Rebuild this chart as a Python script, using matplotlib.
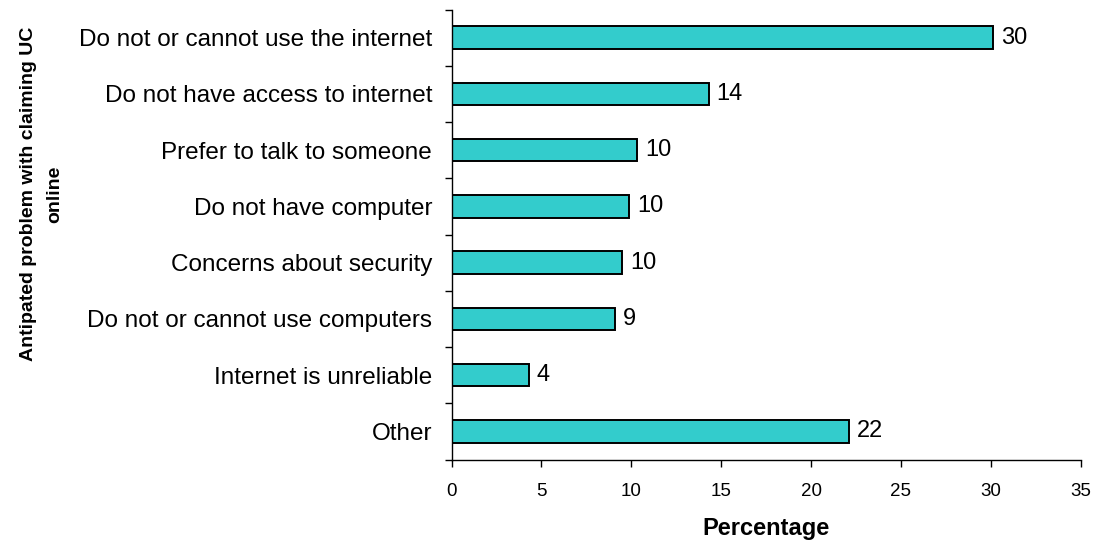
import numpy as np
import matplotlib
matplotlib.use("Agg")
import matplotlib.pyplot as plt

plt.rcParams['font.family'] = ['Liberation Sans', 'DejaVu Sans']

# =============================
# Data
# =============================
problems = [
    "Do not or cannot use the internet",
    "Do not have access to internet",
    "Prefer to talk to someone",
    "Do not have computer",
    "Concerns about security",
    "Do not or cannot use computers",
    "Internet is unreliable",
    "Other",
]
percent = [30.1, 14.3, 10.3, 9.9, 9.5, 9.1, 4.3, 22.1]

# =============================
# Horizontal bar chart
# =============================
fig = plt.figure(figsize=(10.96, 5.44), dpi=100)
ax = fig.add_axes([0.412, 0.1553, 0.574, 0.827])

pos = np.arange(len(problems))
ax.barh(pos, percent, height=0.4, color='#33CCCC', edgecolor='black', linewidth=1.4)

for p, v in zip(pos, percent):
    ax.text(v + 0.45, p, f"{v:.0f}", va='center', ha='left', fontsize=17)

ax.set_xlim(0, 35)
ax.set_ylim(len(problems) - 0.5, -0.5)
ax.set_xticks(np.arange(0, 36, 5))

# category names sit at bar centres, tick marks sit between categories
ax.set_yticks(pos)
ax.set_yticklabels(problems, fontsize=17.5)
ax.set_yticks(np.arange(-0.5, len(problems)), minor=True)
ax.tick_params(axis='y', which='major', length=0, pad=14)
ax.tick_params(axis='y', which='minor', length=5, width=1, direction='out')
ax.tick_params(axis='x', length=5, width=1, direction='out', labelsize=13.5, pad=12)

for s in ['top', 'right']:
    ax.spines[s].set_visible(False)
for s in ['left', 'bottom']:
    ax.spines[s].set_linewidth(1)

ax.set_xlabel("Percentage", fontsize=17, fontweight='bold', labelpad=12)
ax.set_ylabel("Antipated problem with claiming UC\nonline", fontsize=14,
              fontweight='bold', linespacing=1.7)
ax.yaxis.set_label_coords(-0.618, 0.59)

fig.savefig("out.png", dpi=100)
